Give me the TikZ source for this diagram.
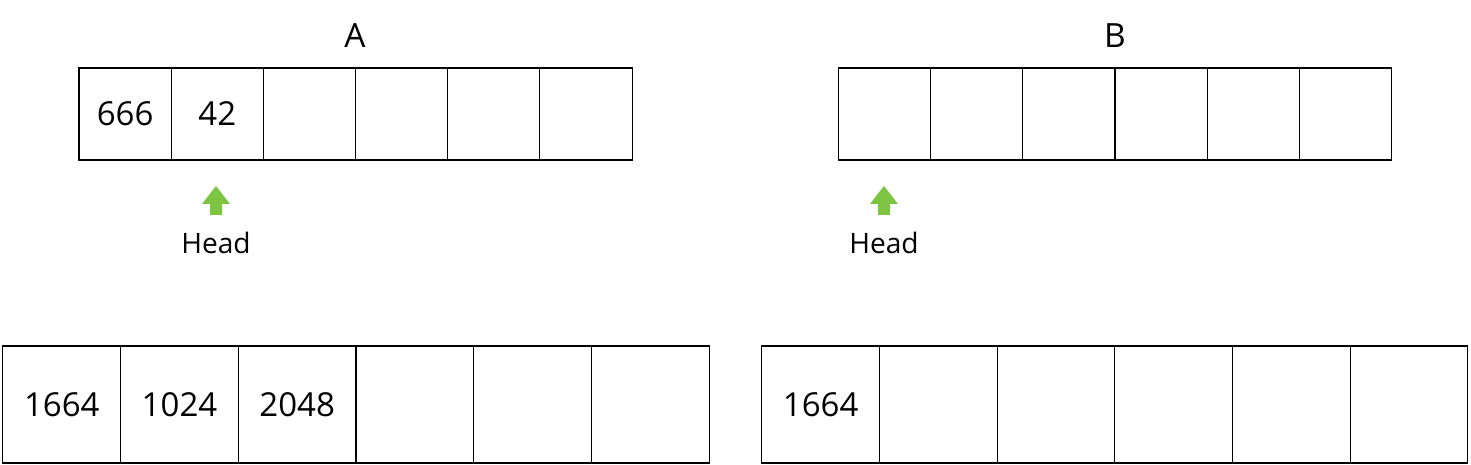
\documentclass[tikz,border=0pt]{standalone}
\usepackage{fontspec}
\setmainfont{Open Sans}
\usepackage{tikz}
\usetikzlibrary{positioning}
\definecolor{headgreen}{RGB}{124,196,66}

\begin{document}
\begin{tikzpicture}[x=0.02cm, y=-0.02cm,
  cellS/.style={draw, line width=0.6pt, inner sep=0pt, minimum width=1.844cm, minimum height=1.84cm,
    text height=13.4pt, text depth=0pt, font=\fontsize{18.8}{22}\selectfont},
  cellL/.style={draw, line width=0.6pt, inner sep=0pt, minimum width=2.354cm, minimum height=2.34cm,
    text height=13.4pt, text depth=0pt, font=\fontsize{18.8}{22}\selectfont},
  ttl/.style={font=\fontsize{19}{23}\selectfont},
  headlbl/.style={font=\fontsize{16}{19}\selectfont},
  headarrow/.style={fill=headgreen}]
\useasboundingbox (0,0) rectangle (1471,465);
% titles
\node[ttl] (titleA) at (355,36) {A};
\node[ttl] (titleB) at (1115,36) {B};
% top row, A
\node[cellS] (ta1) at (125.1,114) {666}; \node[cellS] (ta2) at (217.3,114) {42}; \node[cellS] (ta3) at (309.4,114) {};
\node[cellS] (ta4) at (401.6,114) {}; \node[cellS] (ta5) at (493.8,114) {}; \node[cellS] (ta6) at (586.0,114) {};
% top row, B
\node[cellS] (tb1) at (884.2,114) {}; \node[cellS] (tb2) at (976.5,114) {}; \node[cellS] (tb3) at (1068.8,114) {};
\node[cellS] (tb4) at (1161.2,114) {}; \node[cellS] (tb5) at (1253.5,114) {}; \node[cellS] (tb6) at (1345.8,114) {};
% head pointers (tip at the coordinate)
\coordinate (headA) at (216,186);
\coordinate (headB) at (884,186);
\fill[headarrow] (headA) -- ++(14,18) -- ++(-8,0) -- ++(0,11) -- ++(-12,0) -- ++(0,-11) -- ++(-8,0) -- cycle;
\fill[headarrow] (headB) -- ++(14,18) -- ++(-8,0) -- ++(0,11) -- ++(-12,0) -- ++(0,-11) -- ++(-8,0) -- cycle;
\node[headlbl] (headlblA) at (216,243) {Head};
\node[headlbl] (headlblB) at (884,243) {Head};
% bottom row, A
\node[cellL] (ba1) at (61.8,404.5) {1664}; \node[cellL] (ba2) at (179.5,404.5) {1024}; \node[cellL] (ba3) at (297.2,404.5) {2048};
\node[cellL] (ba4) at (414.8,404.5) {}; \node[cellL] (ba5) at (532.5,404.5) {}; \node[cellL] (ba6) at (650.2,404.5) {};
% bottom row, B
\node[cellL] (bb1) at (820.7,404.5) {1664}; \node[cellL] (bb2) at (938.3,404.5) {}; \node[cellL] (bb3) at (1056.0,404.5) {};
\node[cellL] (bb4) at (1173.7,404.5) {}; \node[cellL] (bb5) at (1291.3,404.5) {}; \node[cellL] (bb6) at (1409.0,404.5) {};
\end{tikzpicture}
\end{document}
